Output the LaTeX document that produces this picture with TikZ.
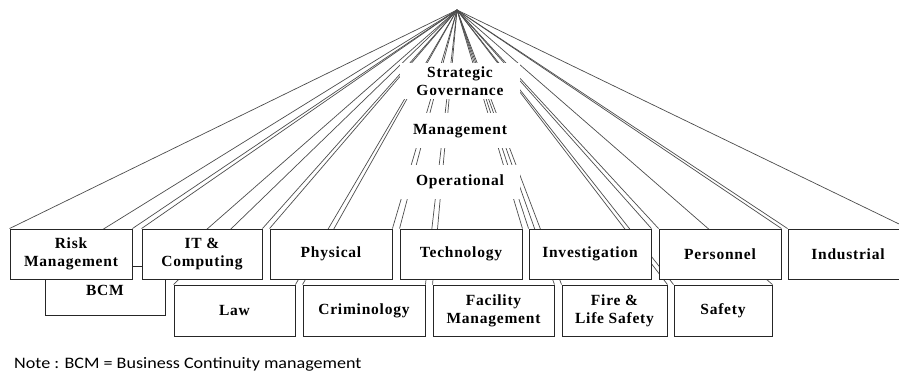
\documentclass[tikz,border=0pt]{standalone}
\usepackage{fontspec}
\setmainfont{LiberationSerif}[Extension=.ttf, UprightFont=*-Regular, BoldFont=*-Bold, LetterSpace=5]
\newfontfamily\notefont{Carlito}
\pgfdeclarelayer{bg}
\pgfsetlayers{bg,main}
\begin{document}
\begin{tikzpicture}[x=1pt,y=-1pt,
  box/.style={draw=black!85, fill=white, line width=0.9pt, inner sep=0pt,
    align=center, font=\fontsize{15.5}{18}\selectfont\bfseries},
  ubox/.style={box, minimum height=50pt},
  lbox/.style={box, minimum height=51pt},
  band/.style={fill=white, inner sep=0pt, minimum width=120pt, align=center,
    font=\fontsize{15.5}{17.5}\selectfont\bfseries},
  fan/.style={draw=black!70, line width=0.7pt}]
\useasboundingbox (0,0) rectangle (899,374);
\clip (0,0) rectangle (899,374);
\coordinate (apex) at (457,10);

% central level bands
\node[band, minimum height=36pt] (sg) at (460,81) {Strategic\\Governance};
\node[band, minimum height=35pt] (mg) at (460,131) {Management};
\node[band, minimum height=34pt] (op) at (460,182) {Operational};

% lower row
\node[box, minimum width=120pt, minimum height=49pt] (bcm) at (105,290.5) {BCM};
\node[lbox, minimum width=121pt] (law) at (234.5,310.5) {Law};
\node[lbox, minimum width=122pt] (crim) at (364,310.5) {Criminology};
\node[lbox, minimum width=121pt] (fac) at (493.5,310.5) {Facility\\Management};
\node[lbox, minimum width=105pt] (fire) at (614.5,310.5) {Fire \&\\Life Safety};
\node[lbox, minimum width=98pt] (safety) at (723,310.5) {Safety};

% upper row
\node[ubox, minimum width=122pt] (risk) at (71,254) {Risk\\Management};
\node[ubox, minimum width=120pt] (it) at (202,254) {IT \&\\Computing};
\node[ubox, minimum width=122pt] (phys) at (331,254) {Physical};
\node[ubox, minimum width=122pt] (tech) at (461,254) {Technology};
\node[ubox, minimum width=122pt] (inv) at (590,254) {Investigation};
\node[ubox, minimum width=122pt] (pers) at (720,254) {Personnel};
\node[ubox, minimum width=120pt] (ind) at (848,254) {Industrial};

% fan of connectors from the apex to every box
\begin{pgfonlayer}{bg}
\foreach \n in {risk,it,phys,tech,inv,pers,ind,bcm,law,crim,fac,fire,safety}{
  \draw[fan] (apex) -- (\n.north west);
  \draw[fan] (apex) -- (\n.north east);
}
\end{pgfonlayer}

\node[anchor=west, inner sep=0pt, font=\notefont\fontsize{16}{19}\selectfont] (note) at (14,364)
  {\scalebox{1.13}[1]{Note : BCM = Business Continuity management}};
\end{tikzpicture}
\end{document}
